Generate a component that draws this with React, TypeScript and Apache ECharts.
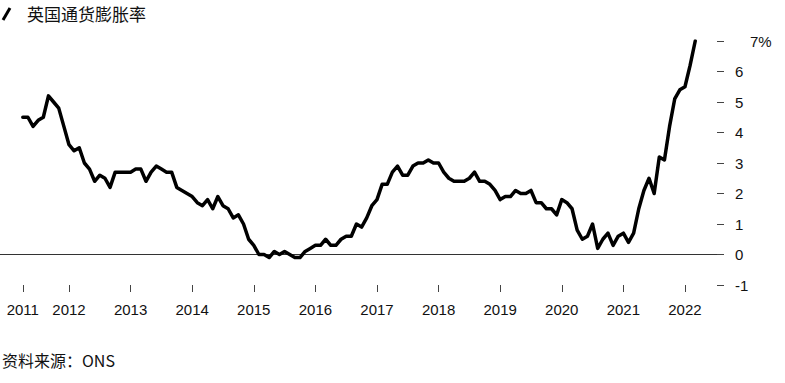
import React, { useEffect, useRef } from "react";
import * as echarts from "echarts";

// UK CPI annual rate, monthly, Apr 2011 – Mar 2022
const startYear = 2011;
const startMonth = 4;
const inflation: number[] = [
  // 2011 Apr–Dec
  4.5, 4.5, 4.2, 4.4, 4.5, 5.2, 5.0, 4.8, 4.2,
  // 2012
  3.6, 3.4, 3.5, 3.0, 2.8, 2.4, 2.6, 2.5, 2.2, 2.7, 2.7, 2.7,
  // 2013
  2.7, 2.8, 2.8, 2.4, 2.7, 2.9, 2.8, 2.7, 2.7, 2.2, 2.1, 2.0,
  // 2014
  1.9, 1.7, 1.6, 1.8, 1.5, 1.9, 1.6, 1.5, 1.2, 1.3, 1.0, 0.5,
  // 2015
  0.3, 0.0, 0.0, -0.1, 0.1, 0.0, 0.1, 0.0, -0.1, -0.1, 0.1, 0.2,
  // 2016
  0.3, 0.3, 0.5, 0.3, 0.3, 0.5, 0.6, 0.6, 1.0, 0.9, 1.2, 1.6,
  // 2017
  1.8, 2.3, 2.3, 2.7, 2.9, 2.6, 2.6, 2.9, 3.0, 3.0, 3.1, 3.0,
  // 2018
  3.0, 2.7, 2.5, 2.4, 2.4, 2.4, 2.5, 2.7, 2.4, 2.4, 2.3, 2.1,
  // 2019
  1.8, 1.9, 1.9, 2.1, 2.0, 2.0, 2.1, 1.7, 1.7, 1.5, 1.5, 1.3,
  // 2020
  1.8, 1.7, 1.5, 0.8, 0.5, 0.6, 1.0, 0.2, 0.5, 0.7, 0.3, 0.6,
  // 2021
  0.7, 0.4, 0.7, 1.5, 2.1, 2.5, 2.0, 3.2, 3.1, 4.2, 5.1, 5.4,
  // 2022 Jan–Mar
  5.5, 6.2, 7.0,
];

const tickDates: string[] = [
  "2011-04", "2012-01", "2013-01", "2014-01", "2015-01", "2016-01",
  "2017-01", "2018-01", "2019-01", "2020-01", "2021-01", "2022-01",
];
const tickLabels: string[] = [
  "2011", "2012", "2013", "2014", "2015", "2016",
  "2017", "2018", "2019", "2020", "2021", "2022",
];
const yTicks: number[] = [-1, 0, 1, 2, 3, 4, 5, 6, 7];

const title = "英国通货膨胀率";
const source = "资料来源：ONS";

const monthIndex = (d: string) => {
  const [y, m] = d.split("-").map(Number);
  return (y - startYear) * 12 + (m - startMonth);
};

const FONT = "'Liberation Sans', Arial, sans-serif";
const CJK = "'Noto Sans CJK SC', sans-serif";

export default function App() {
  const ref = useRef<HTMLDivElement>(null);
  useEffect(() => {
    document.body.style.margin = "0";
    const chart = echarts.init(ref.current!, undefined, { renderer: "svg" });
    const tickIdx = tickDates.map(monthIndex);
    const labelMap: Record<number, string> = {};
    tickIdx.forEach((t, i) => (labelMap[t] = tickLabels[i]));
    const seriesData = inflation.map((v, i) => [i, v]);

    chart.setOption({
      animation: false,
      grid: {
        left: 0,
        right: 68,
        top: 41,
        bottom: 98,
        containLabel: false,
        outerBoundsMode: "none",
      },
      xAxis: {
        type: "value",
        position: "bottom",
        min: -4.44,
        max: 135.24,
        axisLine: { show: false, onZero: false },
        splitLine: { show: false },
        axisTick: {
          show: true,
          length: 7,
          customValues: tickIdx,
          lineStyle: { color: "#444", width: 1 },
        },
        axisLabel: {
          customValues: tickIdx,
          formatter: (v: number) => labelMap[Math.round(v)] ?? "",
          margin: 17,
          fontSize: 15,
          color: "#111",
          fontFamily: FONT,
        },
      },
      yAxis: {
        type: "value",
        position: "right",
        min: -1,
        max: 7,
        interval: 1,
        axisLine: { show: false, onZero: false },
        splitLine: { show: false },
        axisTick: {
          show: true,
          length: 7,
          customValues: yTicks,
          lineStyle: { color: "#444", width: 1 },
        },
        axisLabel: {
          customValues: yTicks,
          margin: 18,
          fontSize: 15,
          color: "#111",
          fontFamily: FONT,
          formatter: (v: number) => (v === 7 ? "{p|7%}" : String(v)),
          rich: {
            p: { padding: [0, 0, 0, 15], fontSize: 15, color: "#111", fontFamily: FONT },
          },
        },
      },
      series: [
        {
          type: "line",
          data: seriesData,
          showSymbol: false,
          symbol: "none",
          lineStyle: { color: "#000", width: 3.5, cap: "round", join: "round" },
          z: 3,
          markLine: {
            silent: true,
            symbol: "none",
            label: { show: false },
            lineStyle: { color: "#333", width: 1, type: "solid" },
            data: [{ yAxis: 0 }],
            z: 1,
          },
        },
      ],
      graphic: [
        {
          type: "line",
          shape: { x1: 3, y1: 20, x2: 10, y2: 8 },
          style: { stroke: "#000", lineWidth: 3 },
        },
        {
          type: "text",
          left: 27,
          top: 5,
          style: { text: title, fontSize: 17, fill: "#111", fontFamily: CJK },
        },
        {
          type: "text",
          left: 2,
          top: 352,
          style: { text: source, fontSize: 16, fill: "#111", fontFamily: CJK },
        },
      ],
    });
    return () => chart.dispose();
  }, []);
  return <div ref={ref} style={{ width: 785, height: 383 }} />;
}
